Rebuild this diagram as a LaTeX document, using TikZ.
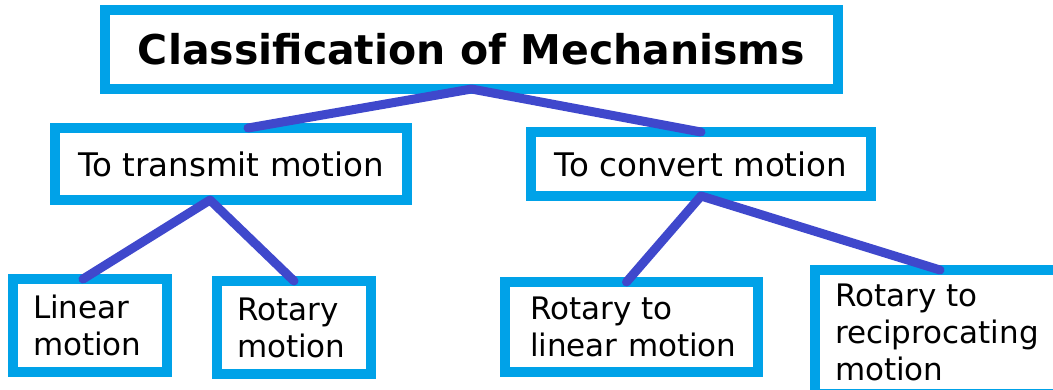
\documentclass[tikz,border=0pt]{standalone}
\usepackage{fontspec}
\setmainfont{DejaVu Sans}
\definecolor{boxblue}{HTML}{00A2E8}
\definecolor{linkblue}{HTML}{3F48CC}

\begin{document}
\begin{tikzpicture}[x=1pt,y=-1pt,
    box/.style={draw=boxblue, line width=10pt, fill=white, rectangle, outer sep=0pt, inner sep=0pt,
        font=\fontsize{32.5}{37}\selectfont},
    leaf/.style={box, align=left, font=\fontsize{31}{37}\selectfont},
    link/.style={draw=linkblue, line width=9pt, line cap=round, line join=round}]
    % Frame
    \useasboundingbox (0,0) rectangle (1053,389);
    \clip (0,0) rectangle (1053,389);

    % Title
    \node[box, font=\bfseries\fontsize{41}{48}\selectfont, minimum width=733, minimum height=79] (title) at (471.5,49.5) {Classification of Mechanisms};

    % Second level
    \node[box, minimum width=352, minimum height=72] (transmit) at (231,164) {To transmit motion};
    \node[box, minimum width=340, minimum height=64] (convert) at (701,164) {To convert motion};

    % Leaves
    \node[leaf, minimum width=154, minimum height=93, inner xsep=20pt, text width=114pt] (linear) at (90,325.5) {Linear\\motion};
    \node[leaf, minimum width=154, minimum height=93, inner xsep=20pt, text width=114pt] (rotary) at (294,327.5) {Rotary\\motion};
    \node[leaf, minimum width=253, minimum height=90, inner xsep=25pt, text width=203pt] (rotlin) at (631.5,327) {Rotary to\\\mbox{linear motion}};
    \node[leaf, minimum width=250, minimum height=124, inner xsep=20pt, text width=210pt] (recip) at (940,332) {Rotary to\\\mbox{reciprocating}\\motion};

    % Links
    \draw[link] ([xshift=17]transmit.north) -- (title.south) -- (convert.north);
    \draw[link] ([xshift=-7]linear.north) -- ([xshift=-21]transmit.south) -- (rotary.north);
    \draw[link] ([xshift=-5]rotlin.north) -- (convert.south) -- (recip.north);
\end{tikzpicture}
\end{document}
